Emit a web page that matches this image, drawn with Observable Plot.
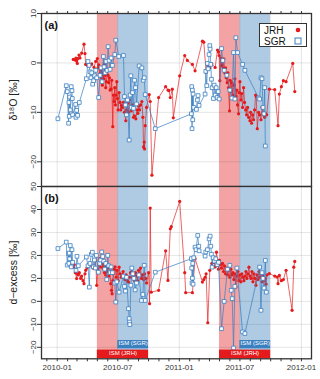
<!DOCTYPE html>
<html><head><meta charset="utf-8">
<script src="https://cdn.jsdelivr.net/npm/d3@7"></script>
<script src="https://cdn.jsdelivr.net/npm/@observablehq/plot@0.6"></script>
<style>
body{margin:0;background:#fff;}
#chart{position:relative;width:320px;height:379px;overflow:hidden;}
#chart svg{display:block;}
.legend{position:absolute;left:259px;top:23px;width:46px;height:22px;border:1px solid #333;background:#fff;font:10px "Liberation Sans",Arial,sans-serif;color:#111;}
.legend .lab{position:absolute;left:4px;}
.legend svg{position:absolute;}
</style></head><body><div id="chart"></div><script>
// ---- data ----
const jrhD18O = [["2010-02-18",0.7],["2010-02-23",0.6],["2010-02-26",1.0],["2010-02-28",0.4],["2010-03-02",-0.1],["2010-03-04",0.9],["2010-03-07",1.6],["2010-03-10",1.0],["2010-03-15",2.0],["2010-03-22",3.8],["2010-03-25",1.9],["2010-03-27",-0.3],["2010-03-31",-0.4],["2010-04-03",-0.6],["2010-04-09",-0.5],["2010-04-14",-0.2],["2010-04-21",-0.9],["2010-04-26",0.3],["2010-05-01",0.9],["2010-05-03",-1.0],["2010-05-05",-0.4],["2010-05-08",-2.2],["2010-05-11",-1.4],["2010-05-13",-3.0],["2010-05-14",-1.0],["2010-05-16",-4.5],["2010-05-18",-2.0],["2010-05-20",-3.2],["2010-05-22",-0.3],["2010-05-24",-2.5],["2010-05-26",-5.0],["2010-05-28",-3.8],["2010-05-31",-1.5],["2010-06-02",-2.5],["2010-06-04",-4.0],["2010-06-06",-3.0],["2010-06-08",-5.5],["2010-06-11",-5.3],["2010-06-13",-3.5],["2010-06-16",-12.9],["2010-06-18",-6.5],["2010-06-20",-7.8],["2010-06-22",-5.0],["2010-06-24",-8.5],["2010-06-26",-6.5],["2010-06-28",-3.8],["2010-06-30",-7.2],["2010-07-02",-9.5],["2010-07-05",-6.0],["2010-07-08",-8.0],["2010-07-10",-9.5],["2010-07-12",-8.6],["2010-07-15",-9.0],["2010-07-18",-8.0],["2010-07-21",-10.0],["2010-07-25",-11.7],["2010-07-27",-9.5],["2010-07-30",-8.2],["2010-08-02",-10.0],["2010-08-05",-7.5],["2010-08-10",-9.7],["2010-08-14",-8.5],["2010-08-17",-11.0],["2010-08-20",-10.7],["2010-08-24",-11.3],["2010-08-28",-9.5],["2010-08-30",-10.2],["2010-09-01",-8.7],["2010-09-04",-9.5],["2010-09-07",-8.5],["2010-09-11",-7.8],["2010-09-14",-11.0],["2010-09-16",-17.0],["2010-09-18",-16.0],["2010-09-19",-17.4],["2010-09-21",-12.7],["2010-09-25",-9.0],["2010-10-03",-6.4],["2010-10-06",-7.8],["2010-10-11",-22.7],["2010-10-31",-7.0],["2010-11-21",-4.8],["2010-11-28",-5.5],["2010-12-01",-5.6],["2010-12-05",-7.0],["2010-12-11",-5.3],["2010-12-14",-11.1],["2011-01-02",-2.6],["2011-01-17",1.5],["2011-01-25",0.5],["2011-02-09",-0.3],["2011-02-17",-1.6],["2011-03-11",4.4],["2011-03-15",4.2],["2011-03-22",-1.9],["2011-03-27",-0.5],["2011-04-02",-1.0],["2011-04-08",-0.2],["2011-04-18",-0.9],["2011-04-25",2.6],["2011-04-28",2.2],["2011-04-30",1.5],["2011-05-02",-3.6],["2011-05-05",1.0],["2011-05-07",-0.5],["2011-05-09",0.3],["2011-05-12",-1.0],["2011-05-14",0.8],["2011-05-17",-2.0],["2011-05-19",-1.0],["2011-05-21",-3.0],["2011-05-24",-4.0],["2011-05-26",-2.0],["2011-05-28",-5.0],["2011-05-31",-9.7],["2011-06-02",-3.5],["2011-06-05",-5.8],["2011-06-07",-4.0],["2011-06-10",-6.5],["2011-06-13",-4.5],["2011-06-16",-3.2],["2011-06-19",-6.8],["2011-06-22",-5.5],["2011-06-24",-8.5],["2011-06-27",-10.3],["2011-06-29",-6.0],["2011-07-01",-3.8],["2011-07-04",-7.5],["2011-07-06",-6.2],["2011-07-09",-9.0],["2011-07-12",-5.0],["2011-07-15",-8.0],["2011-07-18",-9.5],["2011-07-21",-10.5],["2011-07-24",-9.0],["2011-07-27",-11.0],["2011-07-31",-11.7],["2011-08-02",-10.0],["2011-08-05",-12.2],["2011-08-08",-10.5],["2011-08-11",-11.5],["2011-08-14",-9.5],["2011-08-17",-6.5],["2011-08-19",-6.8],["2011-08-22",-13.3],["2011-08-26",-10.0],["2011-08-29",-10.5],["2011-09-02",-11.5],["2011-09-05",-9.0],["2011-09-09",-10.5],["2011-09-13",-11.0],["2011-09-16",-10.3],["2011-09-19",-10.5],["2011-09-27",-5.3],["2011-10-13",-5.4],["2011-10-23",-12.7],["2011-10-27",-6.3],["2011-11-02",-4.8],["2011-11-08",-3.6],["2011-11-16",-3.8],["2011-12-06",-0.1],["2011-12-12",-5.8]];

const sgrD18O = [["2010-01-03",-11.3],["2010-01-28",-4.6],["2010-01-31",-5.8],["2010-02-04",-12.2],["2010-02-05",-8.0],["2010-02-06",-10.8],["2010-02-07",-6.9],["2010-02-09",-9.5],["2010-02-12",-4.8],["2010-02-14",-5.6],["2010-02-15",-7.2],["2010-02-16",-10.5],["2010-02-25",-8.4],["2010-02-26",-11.0],["2010-02-28",-9.6],["2010-03-03",-10.6],["2010-03-08",-8.0],["2010-03-29",-3.2],["2010-04-03",0.3],["2010-04-06",-0.5],["2010-04-09",-1.8],["2010-04-12",-3.0],["2010-04-14",-2.0],["2010-04-17",-4.3],["2010-04-20",-3.6],["2010-04-23",-2.6],["2010-04-26",-1.5],["2010-04-29",-3.0],["2010-05-05",-7.0],["2010-05-09",-2.5],["2010-05-12",-1.0],["2010-05-15",-3.8],["2010-05-19",1.3],["2010-05-21",-0.8],["2010-05-24",-2.0],["2010-05-27",0.3],["2010-05-30",-1.5],["2010-06-02",3.3],["2010-06-05",0.5],["2010-06-08",-1.3],["2010-06-11",1.0],["2010-06-15",-0.5],["2010-06-22",1.7],["2010-06-25",4.6],["2010-07-04",1.3],["2010-07-18",1.5],["2010-07-21",-6.8],["2010-07-24",-8.5],["2010-07-27",-10.5],["2010-07-30",-7.5],["2010-08-04",-15.6],["2010-08-07",-6.5],["2010-08-09",-2.6],["2010-08-11",-9.0],["2010-08-14",-6.0],["2010-08-17",-9.2],["2010-08-20",-3.5],["2010-08-23",-5.0],["2010-08-26",-8.3],["2010-09-03",-0.6],["2010-09-11",-1.0],["2010-09-15",-3.5],["2010-09-18",-3.0],["2010-09-21",-6.4],["2010-10-21",-13.3],["2011-02-06",-10.3],["2011-02-07",-4.8],["2011-02-08",-13.3],["2011-02-09",-5.5],["2011-02-10",-11.5],["2011-02-11",-6.3],["2011-02-13",-9.0],["2011-02-21",-9.4],["2011-02-24",-7.5],["2011-02-26",-6.6],["2011-03-01",-8.6],["2011-03-19",-6.3],["2011-03-21",-1.7],["2011-03-24",-4.6],["2011-03-26",-0.1],["2011-03-28",-1.2],["2011-03-31",1.7],["2011-04-02",3.5],["2011-04-03",2.8],["2011-04-05",-0.3],["2011-04-07",-3.3],["2011-04-09",-5.0],["2011-04-13",-7.2],["2011-04-15",-4.5],["2011-04-18",-6.5],["2011-04-21",-5.0],["2011-04-24",-7.0],["2011-04-27",-5.8],["2011-04-30",-7.3],["2011-05-07",2.9],["2011-05-11",0.5],["2011-05-15",-1.5],["2011-05-23",-2.5],["2011-06-01",-5.5],["2011-06-07",-7.1],["2011-06-12",2.1],["2011-06-16",-7.3],["2011-06-19",5.1],["2011-06-24",2.1],["2011-07-09",-0.3],["2011-07-16",-1.5],["2011-08-26",-7.1],["2011-08-29",-7.3],["2011-09-02",-3.0],["2011-09-05",-3.2],["2011-09-08",-9.0],["2011-09-11",-10.3],["2011-09-13",-5.0],["2011-09-15",-16.8]];

const jrhDex = [["2010-02-18",14.9],["2010-02-21",16.0],["2010-02-24",12.5],["2010-02-28",9.9],["2010-03-02",12.0],["2010-03-05",11.5],["2010-03-08",12.5],["2010-03-12",10.0],["2010-03-15",11.0],["2010-03-19",9.0],["2010-03-22",7.7],["2010-03-25",12.0],["2010-03-27",13.5],["2010-03-31",14.5],["2010-04-03",15.5],["2010-04-08",16.4],["2010-04-11",16.5],["2010-04-14",15.5],["2010-04-18",14.5],["2010-04-22",15.0],["2010-04-26",17.8],["2010-04-29",7.0],["2010-05-02",14.0],["2010-05-05",16.0],["2010-05-08",18.6],["2010-05-10",15.0],["2010-05-13",21.4],["2010-05-15",17.0],["2010-05-17",14.5],["2010-05-20",16.0],["2010-05-22",12.5],["2010-05-24",15.0],["2010-05-26",11.5],["2010-05-29",13.0],["2010-06-01",14.5],["2010-06-04",11.0],["2010-06-07",12.5],["2010-06-10",7.7],["2010-06-12",4.8],["2010-06-14",3.3],["2010-06-16",9.0],["2010-06-18",12.0],["2010-06-20",14.0],["2010-06-23",15.0],["2010-06-26",10.5],["2010-06-29",13.5],["2010-07-02",9.0],["2010-07-05",14.9],["2010-07-08",12.0],["2010-07-11",10.5],["2010-07-14",11.5],["2010-07-17",13.0],["2010-07-20",11.0],["2010-07-23",9.5],["2010-07-26",11.5],["2010-07-29",9.0],["2010-08-02",8.4],["2010-08-05",10.5],["2010-08-08",12.5],["2010-08-11",14.2],["2010-08-14",10.5],["2010-08-17",11.5],["2010-08-20",9.0],["2010-08-23",12.5],["2010-08-26",11.0],["2010-08-29",9.0],["2010-09-01",13.5],["2010-09-04",12.0],["2010-09-07",14.5],["2010-09-10",10.0],["2010-09-13",11.5],["2010-09-16",9.5],["2010-09-19",12.0],["2010-09-22",10.0],["2010-09-25",8.0],["2010-10-01",12.5],["2010-10-04",-1.0],["2010-10-06",40.6],["2010-10-09",4.0],["2010-10-31",4.8],["2010-11-21",22.0],["2010-11-28",9.1],["2010-12-05",31.6],["2010-12-08",32.5],["2011-01-02",43.5],["2011-01-17",12.5],["2011-01-20",3.8],["2011-02-09",3.8],["2011-02-17",18.6],["2011-03-11",8.4],["2011-03-15",9.5],["2011-03-19",10.5],["2011-03-22",12.0],["2011-03-27",-9.3],["2011-04-02",13.5],["2011-04-08",16.5],["2011-04-14",17.0],["2011-04-18",15.0],["2011-04-22",21.4],["2011-04-25",18.0],["2011-04-28",14.0],["2011-05-01",17.8],["2011-05-04",16.0],["2011-05-07",14.5],["2011-05-10",16.5],["2011-05-13",13.0],["2011-05-16",15.5],["2011-05-19",12.0],["2011-05-22",14.5],["2011-05-25",11.5],["2011-05-28",13.5],["2011-06-01",10.5],["2011-06-04",14.0],["2011-06-07",11.5],["2011-06-10",12.5],["2011-06-13",9.5],["2011-06-16",12.0],["2011-06-19",6.2],["2011-06-22",11.0],["2011-06-25",13.0],["2011-06-28",9.0],["2011-07-01",11.5],["2011-07-04",8.5],["2011-07-07",12.0],["2011-07-10",10.5],["2011-07-13",9.0],["2011-07-16",11.0],["2011-07-19",13.0],["2011-07-22",10.0],["2011-07-25",12.0],["2011-07-28",14.9],["2011-07-31",11.0],["2011-08-03",10.0],["2011-08-06",13.0],["2011-08-09",8.5],["2011-08-12",12.0],["2011-08-15",10.0],["2011-08-18",7.0],["2011-08-21",11.5],["2011-08-24",9.5],["2011-08-27",13.0],["2011-08-30",10.5],["2011-09-02",12.5],["2011-09-05",8.5],["2011-09-08",11.0],["2011-09-11",9.0],["2011-09-14",10.0],["2011-09-17",7.5],["2011-09-20",11.5],["2011-09-27",12.1],["2011-10-13",11.0],["2011-10-20",10.6],["2011-10-23",7.7],["2011-10-27",11.3],["2011-11-02",9.0],["2011-11-08",9.5],["2011-11-16",13.5],["2011-12-04",-3.9],["2011-12-09",14.9],["2011-12-12",17.4]];

const sgrDex = [["2010-01-03",23.0],["2010-01-28",25.8],["2010-01-31",15.8],["2010-02-04",20.7],["2010-02-05",16.5],["2010-02-06",21.0],["2010-02-07",18.5],["2010-02-09",24.3],["2010-02-12",15.0],["2010-02-14",22.5],["2010-02-16",17.0],["2010-02-26",13.5],["2010-03-01",19.6],["2010-03-05",15.5],["2010-03-29",19.3],["2010-04-03",15.5],["2010-04-07",6.2],["2010-04-09",16.5],["2010-04-13",20.5],["2010-04-16",21.4],["2010-04-19",15.0],["2010-04-22",18.0],["2010-04-25",14.5],["2010-04-28",20.0],["2010-05-04",12.7],["2010-05-08",16.5],["2010-05-11",18.0],["2010-05-14",21.5],["2010-05-17",19.5],["2010-05-20",17.5],["2010-05-23",14.0],["2010-05-26",16.5],["2010-05-29",9.5],["2010-06-01",20.0],["2010-06-04",15.5],["2010-06-08",12.5],["2010-06-11",15.0],["2010-06-15",12.5],["2010-06-22",8.0],["2010-06-25",-0.3],["2010-06-28",8.5],["2010-07-05",4.0],["2010-07-18",11.0],["2010-07-21",6.5],["2010-07-24",4.5],["2010-07-27",10.5],["2010-08-02",-3.2],["2010-08-04",-7.5],["2010-08-05",-9.0],["2010-08-06",-10.1],["2010-08-09",7.0],["2010-08-12",14.5],["2010-08-15",12.0],["2010-08-18",10.0],["2010-08-22",5.0],["2010-08-26",8.0],["2010-09-02",11.5],["2010-09-10",0.4],["2010-09-14",3.0],["2010-09-18",15.7],["2010-09-21",0.4],["2010-10-21",12.7],["2011-02-06",18.6],["2011-02-07",14.5],["2011-02-08",8.0],["2011-02-09",10.1],["2011-02-10",16.5],["2011-02-11",7.5],["2011-02-13",19.0],["2011-02-17",23.6],["2011-02-20",22.5],["2011-02-25",28.7],["2011-02-28",24.0],["2011-03-01",22.0],["2011-03-19",19.7],["2011-03-21",21.5],["2011-03-26",22.5],["2011-03-31",27.2],["2011-04-03",28.4],["2011-04-05",24.0],["2011-04-07",20.5],["2011-04-09",14.9],["2011-04-12",19.0],["2011-04-16",17.5],["2011-04-20",18.5],["2011-04-24",16.0],["2011-04-28",17.0],["2011-05-07",-11.9],["2011-05-15",0.0],["2011-05-25",14.0],["2011-06-01",15.7],["2011-06-05",4.8],["2011-06-08",1.2],["2011-06-12",-20.3],["2011-06-16",6.5],["2011-06-22",14.5],["2011-07-09",-13.3],["2011-07-16",-14.0],["2011-08-29",14.9],["2011-09-02",-3.9],["2011-09-05",12.5],["2011-09-08",10.0],["2011-09-11",5.8],["2011-09-15",17.8],["2011-09-18",4.0]];

const ismJRH = [["2010-05-01","2010-10-01"],["2011-05-01","2011-10-01"]];
const ismSGR = [["2010-07-01","2010-10-01"],["2011-07-01","2011-10-01"]];
const xRange = ["2009-11-15","2012-01-31"];
const yTicksA = [-20,-10,0,10];
const yTicksB = [-20,-10,0,10,20,30,40,50];
const yDomainA = [-25,10];
const yDomainB = [-25,50];
const yTitleA = "δ¹⁸O [‰]";
const yTitleB = "d−excess [‰]";

// ---- helpers ----
const toRows = arr => arr.map(([d,v]) => ({date: new Date(d), value: v}));
const toPeriods = arr => arr.map(([s,e]) => ({start: new Date(s), end: new Date(e)}));
const RED = "#e41a1c", BLUE = "#3a7fc0";
const SHADE_R = "#f4a3a4", SHADE_B = "#afcbe4";
const months = d3.utcMonth.range(new Date("2009-12-01"), new Date("2012-02-01"));
const majors = months.filter(d => d.getUTCMonth() % 6 === 0);
const fmt = d3.utcFormat("%Y-%m");
const xDomain = xRange.map(d => new Date(d));
const jrhP = toPeriods(ismJRH), sgrP = toPeriods(ismSGR);
const mid = p => new Date((+p.start + +p.end) / 2);
const style = {fontFamily: "'Liberation Sans', Arial, sans-serif", fontSize: "8px", color: "#333", background: "none", overflow: "visible"};

function seriesMarks(jrh, sgr) {
  return [
    Plot.line(jrh, {x: "date", y: "value", stroke: RED, strokeWidth: 0.8, strokeOpacity: 0.85}),
    Plot.dot(jrh, {x: "date", y: "value", fill: RED, r: 1.6}),
    Plot.line(sgr, {x: "date", y: "value", stroke: BLUE, strokeWidth: 0.8, strokeOpacity: 0.9}),
    Plot.dot(sgr, {x: "date", y: "value", symbol: "square", stroke: BLUE, fill: "white", strokeWidth: 0.8, r: 2.1})
  ];
}
function baseMarks(yTicks) {
  return [
    Plot.rect(jrhP, {x1: "start", x2: "end", fill: SHADE_R}),
    Plot.rect(sgrP, {x1: "start", x2: "end", fill: SHADE_B}),
    Plot.ruleX(majors, {stroke: "#000", strokeOpacity: 0.1, strokeWidth: 1}),
    Plot.ruleY(yTicks, {stroke: "#000", strokeOpacity: 0.1, strokeWidth: 1})
  ];
}

const plotA = Plot.plot({
  width: 320, height: 186,
  marginLeft: 41, marginRight: 9, marginTop: 13, marginBottom: 0,
  style,
  x: {type: "utc", domain: xDomain, axis: "top", ticks: months, tickFormat: () => "", tickSize: 3, label: null},
  y: {domain: yDomainA, ticks: yTicksA, tickRotate: -90, tickSize: 4, tickPadding: 2, label: null},
  marks: [
    ...baseMarks(yTicksA),
    ...seriesMarks(toRows(jrhD18O), toRows(sgrD18O)),
    Plot.frame({stroke: "#333", strokeWidth: 1.3}),
    Plot.text(["(a)"], {text: d => d, frameAnchor: "top-left", dx: 3, dy: 8, fontWeight: "bold", fontSize: 11, fill: "#111"}),
    Plot.text([yTitleA], {text: d => d, frameAnchor: "left", rotate: -90, dx: -28, fontSize: 10.5, fill: "#222", textAnchor: "middle"})
  ]
});

const plotB = Plot.plot({
  width: 320, height: 193,
  marginLeft: 41, marginRight: 9, marginTop: 0, marginBottom: 20.7,
  style,
  x: {type: "utc", domain: xDomain, axis: "bottom", ticks: months, tickFormat: d => d.getUTCMonth() % 6 === 0 ? fmt(d) : "", tickSize: 3, tickPadding: 3, label: null},
  y: {domain: yDomainB, ticks: yTicksB, tickRotate: -90, tickSize: 4, tickPadding: 2, label: null},
  marks: [
    ...baseMarks(yTicksB),
    ...seriesMarks(toRows(jrhDex), toRows(sgrDex)),
    Plot.rect(sgrP, {x1: "start", x2: "end", fill: BLUE, insetTop: 154, insetBottom: 10}),
    Plot.rect(jrhP, {x1: "start", x2: "end", fill: RED, insetTop: 163.6}),
    Plot.text(sgrP, {x: mid, text: () => "ISM (SGR)", frameAnchor: "bottom", dy: -14.2, fill: "white", fontSize: 6}),
    Plot.text(jrhP, {x: mid, text: () => "ISM (JRH)", frameAnchor: "bottom", dy: -4.3, fill: "white", fontSize: 6}),
    Plot.frame({stroke: "#333", strokeWidth: 1.3}),
    Plot.text(["(b)"], {text: d => d, frameAnchor: "top-left", dx: 3, dy: 8, fontWeight: "bold", fontSize: 11, fill: "#111"}),
    Plot.text([yTitleB], {text: d => d, frameAnchor: "left", rotate: -90, dx: -28, fontSize: 10.5, fill: "#222", textAnchor: "middle"})
  ]
});

const chart = document.getElementById("chart");
chart.append(plotA, plotB);

// legend
const leg = document.createElement("div");
leg.className = "legend";
leg.innerHTML = `<span class="lab" style="top:1px">JRH</span><span class="lab" style="top:12px">SGR</span>
<svg width="10" height="10" style="left:33px;top:1px"><circle cx="5" cy="5" r="2.3" fill="${RED}"/></svg>
<svg width="10" height="10" style="left:33px;top:12px"><rect x="2" y="2" width="6" height="6" fill="white" stroke="${BLUE}" stroke-width="1"/></svg>`;
chart.append(leg);
</script></body></html>
